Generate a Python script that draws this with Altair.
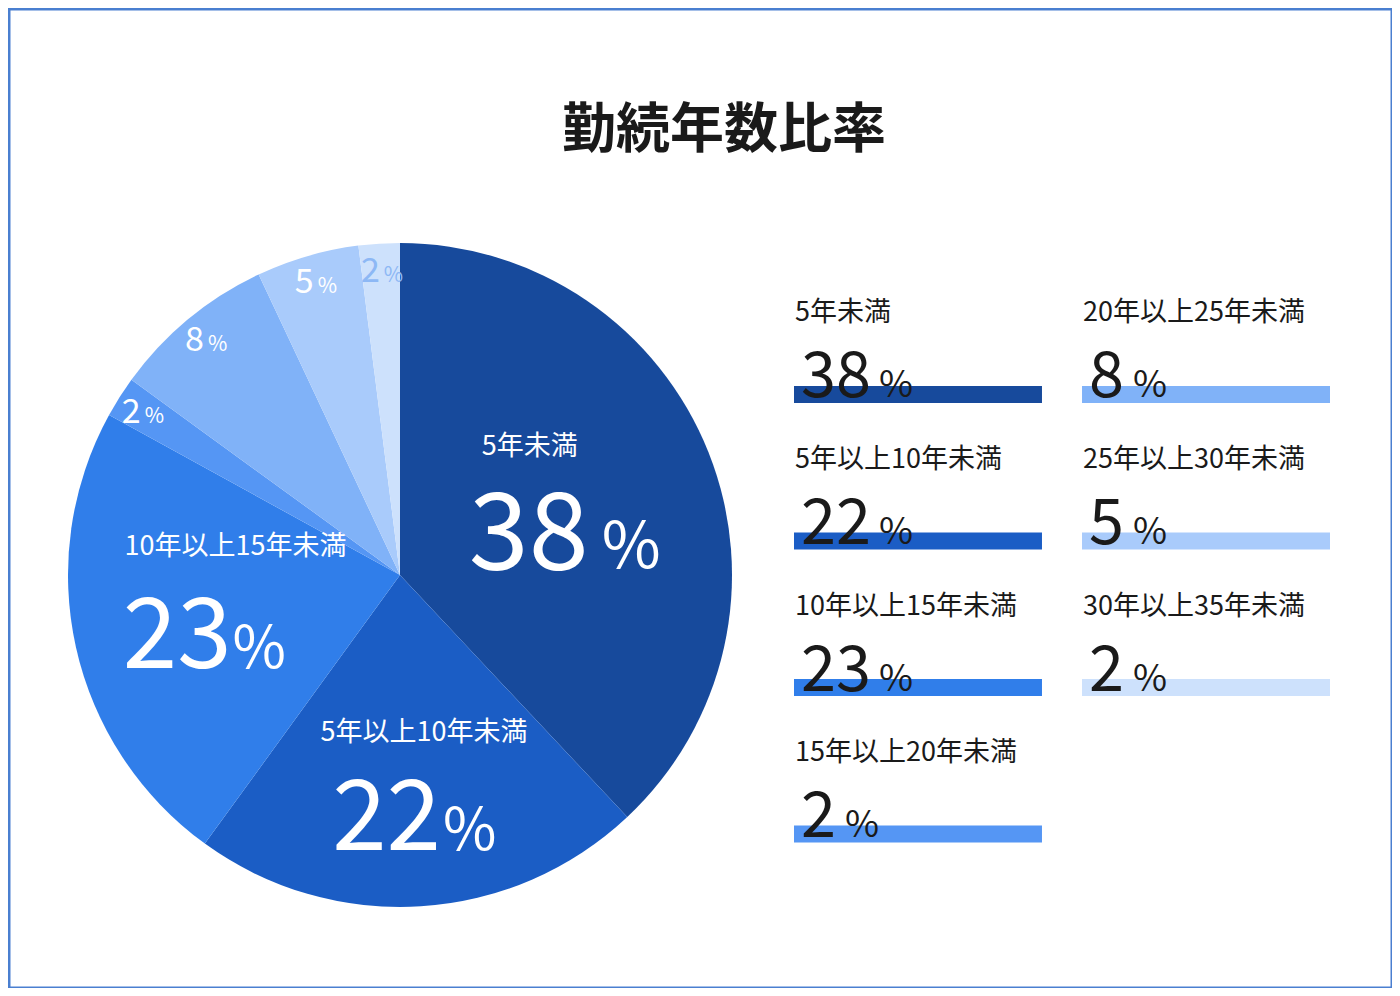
import math
import altair as alt
import pandas as pd

# ---- data ----
categories = ["5年未満", "5年以上10年未満", "10年以上15年未満", "15年以上20年未満",
              "20年以上25年未満", "25年以上30年未満", "30年以上35年未満"]
values = [38, 22, 23, 2, 8, 5, 2]
colors = ["#174A9C", "#1B5DC5", "#307EEA", "#5596F4", "#80B2F8", "#A9CBFB", "#CDE1FC"]
title_text = "勤続年数比率"
pct_sign = "%"

df = pd.DataFrame({"idx": list(range(len(categories))), "cat": categories, "value": values})

# ---- layout / style ----
W, H = 1380, 976
CX, CY = 390, 565
R = 332
CJK = "Noto Sans CJK JP"
DIG = "Noto Sans CJK JP"
INK = "#1A1A1A"

theta_scale = alt.Scale(domain=[0, 100], range=[0, 2 * math.pi])
color_enc = alt.Color("cat:N", scale=alt.Scale(domain=categories, range=colors), legend=None)

base = alt.Chart(df).transform_window(
    cum="sum(value)", sort=[alt.SortField("idx")]
).transform_calculate(
    start="datum.cum - datum.value",
    mid="datum.cum - datum.value / 2",
    col="floor(datum.idx / 4)",
    row="datum.idx % 4",
    num="'' + datum.value",
    pct="'" + pct_sign + "'",
)

arc = base.mark_arc(outerRadius=R).encode(
    theta=alt.Theta("start:Q", stack=False, scale=theta_scale),
    theta2="cum:Q",
    color=color_enc,
    x=alt.value(CX), y=alt.value(CY),
)

layers = [arc]

# small labels on the pie
small_color = alt.condition("datum.idx == 6", alt.value("#8DB8F5"), alt.value("white"))
small = base.transform_filter("datum.value < 10")
layers.append(small.mark_text(radius=306, align="right", baseline="alphabetic", dx=-1, dy=12,
                              font=DIG, fontSize=34).encode(
    theta=alt.Theta("mid:Q", stack=False, scale=theta_scale), text="num:N",
    color=small_color, x=alt.value(CX), y=alt.value(CY)))
layers.append(small.mark_text(radius=306, align="left", baseline="alphabetic", dx=3, dy=12,
                              font=DIG, fontSize=21).encode(
    theta=alt.Theta("mid:Q", stack=False, scale=theta_scale), text="pct:N",
    color=small_color, x=alt.value(CX), y=alt.value(CY)))

# big labels on the pie
big_style = {
    0: dict(size=108, psize=64, lab=(-47, -58), num=(12, 65), pct=(25, 63)),
    1: dict(size=98, psize=58, lab=(12, -32), num=(29, 85), pct=(31, 85)),
    2: dict(size=98, psize=58, lab=(21, -69), num=(17, 52), pct=(18, 52)),
}
for i, st in big_style.items():
    b = base.transform_filter(f"datum.idx == {i}")
    th = alt.Theta("mid:Q", stack=False, scale=theta_scale)
    layers.append(b.mark_text(radius=190, align="center", baseline="middle",
                              dx=st["lab"][0], dy=st["lab"][1], font=CJK, fontSize=27,
                              color="white").encode(theta=th, text="cat:N",
                                                    x=alt.value(CX), y=alt.value(CY)))
    layers.append(b.mark_text(radius=190, align="right", baseline="alphabetic",
                              dx=st["num"][0], dy=st["num"][1], font=DIG, fontSize=st["size"],
                              color="white").encode(theta=th, text="num:N",
                                                    x=alt.value(CX), y=alt.value(CY)))
    layers.append(b.mark_text(radius=190, align="left", baseline="alphabetic",
                              dx=st["pct"][0], dy=st["pct"][1], font=DIG, fontSize=st["psize"],
                              color="white").encode(theta=th, text="pct:N",
                                                    x=alt.value(CX), y=alt.value(CY)))

# legend list on the right
xs = alt.Scale(domain=[0, 1], range=[784, 1320], paddingInner=0.139, paddingOuter=0)
ys = alt.Scale(domain=[0, 1, 2, 3], range=[376, 832.5], paddingInner=0.884, paddingOuter=0)
lx = alt.X("col:O", scale=xs, axis=None)
ly = alt.Y("row:O", scale=ys, axis=None)

layers.append(base.mark_rect().encode(x=lx, y=ly, color=color_enc))
layers.append(base.mark_text(align="left", baseline="middle", dx=-123, dy=-81, font=CJK,
                             fontSize=27, color=INK).encode(x=lx, y=ly, text="cat:N"))
layers.append(base.mark_text(align="left", baseline="alphabetic", dx=-117, dy=3, font=DIG,
                             fontSize=63, color=INK).encode(x=lx, y=ly, text="num:N"))
layers.append(base.transform_filter("datum.value >= 10").mark_text(
    align="left", baseline="alphabetic", dx=-39, dy=3, font=DIG, fontSize=37,
    color=INK).encode(x=lx, y=ly, text="pct:N"))
layers.append(base.transform_filter("datum.value < 10").mark_text(
    align="left", baseline="alphabetic", dx=-73, dy=3, font=DIG, fontSize=37,
    color=INK).encode(x=lx, y=ly, text="pct:N"))

# title
title = alt.Chart(pd.DataFrame({"t": [title_text]})).mark_text(
    font=CJK, fontSize=54, fontWeight="bold", color=INK, baseline="middle", align="center"
).encode(text="t:N", x=alt.value(714), y=alt.value(122))
layers.append(title)

chart = alt.layer(*layers).properties(
    width=W, height=H, padding=2, background="#4A7FD0",
    autosize=alt.AutoSizeParams(type="none"),
).configure_view(fill="white", stroke="transparent")

chart.save("out.html", embed_options={"renderer": "svg", "actions": False})
